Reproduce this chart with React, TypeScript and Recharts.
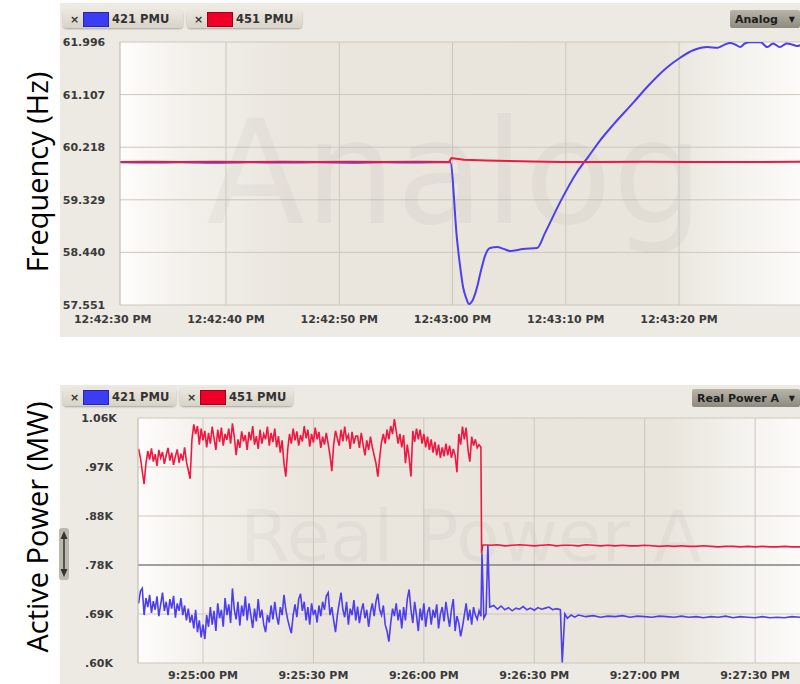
import React from "react";
import { LineChart, Line, XAxis, YAxis, CartesianGrid, ReferenceLine } from "recharts";

// top plot: seconds after 12:42:00 PM
const freqTicks = [30, 40, 50, 60, 70, 80];
const freqTickLabels = ["12:42:30 PM", "12:42:40 PM", "12:42:50 PM", "12:43:00 PM", "12:43:10 PM", "12:43:20 PM"];
const freqYTicks = [57.551, 58.44, 59.329, 60.218, 61.107, 61.996];
const freqDomain = [30.64, 90.68];

const freq421Times = [30.6, 33, 36, 39, 42, 45, 48, 51, 54, 57, 59.8, 60.4, 60.68, 60.93, 61.2, 61.46, 61.8, 62.17, 62.46, 62.9, 63.32, 63.94, 64.5, 65.08, 66.23, 67.47, 68.17, 69.5, 71.0, 72.0, 73.02, 74.2, 75.96, 77.2, 78.96, 80.1, 81.3, 82.5, 83.4, 83.9, 84.5, 85.0, 85.4, 85.8, 86.3, 87.2, 87.8, 88.3, 88.9, 89.5, 90.05, 90.4, 90.7];
const freq421Hz = [59.962, 59.958, 59.964, 59.955, 59.963, 59.958, 59.962, 59.957, 59.963, 59.96, 59.965, 58.65, 58.19, 57.855, 57.67, 57.568, 57.64, 57.855, 58.09, 58.40, 58.514, 58.531, 58.5, 58.464, 58.497, 58.514, 58.77, 59.29, 59.8, 60.06, 60.33, 60.6, 60.97, 61.24, 61.57, 61.73, 61.86, 61.91, 61.9, 61.94, 61.98, 61.95, 61.91, 61.97, 61.99, 61.99, 61.91, 61.97, 61.91, 61.97, 61.95, 61.93, 61.94];

const freq451Times = [30.6, 33, 36, 39, 42, 45, 48, 51, 54, 57, 59.7, 59.9, 61, 63, 65, 67, 69.6, 73, 77, 81, 85, 90.7];
const freq451Hz = [59.968, 59.972, 59.966, 59.97, 59.968, 59.972, 59.966, 59.97, 59.968, 59.97, 59.968, 60.036, 60.004, 59.995, 59.985, 59.978, 59.968, 59.968, 59.97, 59.968, 59.968, 59.97];

// bottom plot: seconds after 9:24:00 PM
const powerTicks = [60, 90, 120, 150, 180, 210];
const powerTickLabels = ["9:25:00 PM", "9:25:30 PM", "9:26:00 PM", "9:26:30 PM", "9:27:00 PM", "9:27:30 PM"];
const powerYTicks = [600, 692, 784, 876, 968, 1060];
const powerDomain = [42.34, 222.2];

// PMU samples every 0.5 s from 42.5 s until the trip
const powerSampleStart = 42.5;
const powerSampleStep = 0.5;

const power421Noisy = [
  712, 735, 740, 690, 722, 705, 728, 694, 716, 700, 725, 688, 710, 732, 698, 715, 690, 720, 702, 726, 685, 712, 698, 722, 690, 708, 680, 702, 676,
  690, 665, 700, 658, 680, 648, 672, 645, 690, 668,
  705, 672, 698, 660, 712, 684, 700, 668, 722, 690,
  710, 675, 740, 700, 682, 715, 670, 708, 688, 725,
  680, 712, 690, 666, 702, 678, 720, 685, 700, 672,
  658, 690, 676, 708, 682, 715, 688, 672, 705, 690,
  728, 700, 682, 668, 656, 690, 710, 686, 720, 730,
  698, 715, 680, 705, 672, 712, 690, 700, 676, 708,
  688, 715, 700, 726, 732, 690, 705, 680, 658, 690,
  712, 732, 700, 686, 715, 672, 702, 690, 718, 680,
  706, 675, 698, 712, 684, 700, 668, 695, 712, 688,
  715, 730, 700, 690, 708, 672, 660, 640, 675, 702,
  688, 712, 680, 700, 665, 705, 680, 720, 738, 700,
  675, 715, 690, 660, 702, 680, 712, 668, 695, 705,
  672, 700, 685, 710, 665, 692, 705, 678, 715, 690,
  668, 700, 720, 660, 688, 675, 650, 668, 690, 712,
  680, 700, 672, 705, 690, 682, 698, 688,
];

const power451Noisy = [
  1002, 985, 960, 936, 975, 998, 982, 1003, 978, 992, 970, 1000, 985, 996, 974, 990, 1004, 980, 995, 972, 988, 1001, 976, 993, 980, 1005, 978, 962, 946,
  1020, 1048, 1030, 1045, 1010, 1040, 1018, 1036, 1005, 1032,
  1012, 1044, 1022, 1000, 1038, 1015, 1042, 1008, 1030, 1019,
  1040, 1012, 1050, 1025, 990, 1020, 1004, 1035, 1016, 1028,
  1000, 1034, 1018, 1045, 1010, 1026, 1002, 1038, 1012, 1030,
  1020, 1044, 1008, 1032, 1015, 1040, 1005, 1026, 995, 1018,
  975, 950, 1000, 1030, 1012, 1040, 1018, 1035, 1008, 1028,
  1016, 1045, 1022, 1038, 1006, 1030, 1014, 1042, 1020, 1034,
  1004, 1025, 1010, 1032, 1012, 990, 960, 1010, 1036, 1022,
  1008, 1038, 1016, 1044, 1020, 1028, 1002, 1034, 1012, 1026,
  1026, 1004, 1032, 1010, 990, 1018, 1000, 1025, 1005, 990,
  975, 950, 985, 1015, 1030, 1012, 1038, 1020, 1045, 1030,
  1058, 1035, 1012, 1030, 1005, 1028, 975, 1010, 985, 950,
  1036, 1015, 1040, 1020, 1038, 1012, 1030, 1005, 1025, 1000,
  1020, 995, 1015, 990, 1010, 985, 1005, 988, 1012, 990,
  1008, 985, 1002, 990, 958, 1030, 1010, 1044, 1020, 1042,
  1000, 978, 1025, 1008, 1020, 1004, 1010, 1005,
];

const power421AfterTimes = [135.8, 136.3, 136.9, 137.4, 137.9, 139, 140, 141, 142, 143, 144, 145, 146, 147, 148, 149, 150, 151, 152, 153, 154, 155, 156, 157.1, 157.6, 158.3, 159, 160, 161, 162, 164, 166, 168, 170, 172, 174, 176, 178, 180, 182, 184, 186, 188, 190, 192, 194, 196, 198, 200, 202, 204, 206, 208, 210, 212, 214, 216, 218, 220, 222.2];
const power421AfterMW = [806, 684, 692, 822, 705, 708, 701, 707, 700, 704, 698, 703, 701, 706, 700, 703, 699, 704, 701, 703, 705, 700, 702, 700, 601, 692, 684, 690, 686, 690, 687, 689, 686, 688, 687, 689, 686, 688, 687, 686, 688, 687, 686, 688, 686, 687, 685, 687, 686, 688, 685, 687, 686, 685, 687, 685, 686, 685, 687, 686];

const power451AfterTimes = [135.7, 136.0, 138, 140, 142, 144, 146, 148, 150, 152, 154, 156, 158, 160, 162, 164, 166, 168, 170, 172, 174, 176, 178, 180, 182, 184, 186, 188, 190, 192, 194, 196, 198, 200, 202, 204, 206, 208, 210, 212, 214, 216, 218, 220, 222.2];
const power451AfterMW = [806, 822, 821, 822, 820, 821, 822, 821, 820, 821, 822, 820, 821, 821, 820, 822, 821, 820, 821, 820, 821, 820, 820, 821, 820, 819, 820, 819, 820, 819, 819, 820, 819, 818, 819, 819, 818, 819, 818, 819, 818, 818, 819, 818, 818];

const BLUE = "#4d3ef0";
const RED = "#f01840";
const GRID = "#ccc7bc";
const TICK_FONT = { fill: "#3a3a3a", fontSize: 11, fontWeight: "bold", fontFamily: "DejaVu Sans" };

const toRows = (times: number[], vals: number[]) => times.map((t, i) => ({ t, v: vals[i] }));
const sampled = (vals: number[]) => vals.map((v, i) => ({ t: powerSampleStart + i * powerSampleStep, v }));

const freq421 = toRows(freq421Times, freq421Hz);
const freq451 = toRows(freq451Times, freq451Hz);
const power421 = [...sampled(power421Noisy), ...toRows(power421AfterTimes, power421AfterMW)];
const power451 = [...sampled(power451Noisy), ...toRows(power451AfterTimes, power451AfterMW)];

const fmtPower = (v: number) => {
  const s = (v / 1000).toFixed(2);
  return (s.startsWith("0") ? s.slice(1) : s) + "K";
};

const centerTick = (offset: number, fmt: (v: number) => string) => (p: any) => (
  <text x={p.x - offset} y={p.y} dy={4} textAnchor="middle" {...TICK_FONT}>
    {fmt(p.payload.value)}
  </text>
);

const Chip = ({ left, top, width, color, label }: any) => (
  <div
    style={{
      position: "absolute", left, top, width, height: 18, borderRadius: 4,
      background: "linear-gradient(#ece8e0, #d8d3c8)", boxShadow: "0 1px 2px rgba(0,0,0,0.3)",
      display: "flex", alignItems: "center", font: "bold 11.5px 'DejaVu Sans'", color: "#333",
    }}
  >
    <span style={{ marginLeft: 7, width: 11, fontSize: 11 }}>×</span>
    <span style={{ marginLeft: 2, width: 24, height: 13, background: color, border: "1px solid rgba(0,0,0,0.35)" }} />
    <span style={{ marginLeft: 3 }}>{label}</span>
  </div>
);

const Dropdown = ({ left, top, width, label }: any) => (
  <div
    style={{
      position: "absolute", left, top, width, height: 18, borderRadius: 2,
      background: "linear-gradient(#b9b4a9, #8f8a7f)", display: "flex", alignItems: "center",
      font: "bold 11px 'DejaVu Sans'", color: "#1e1e1e",
    }}
  >
    <span style={{ marginLeft: 5 }}>{label}</span>
    <span style={{ marginLeft: "auto", marginRight: 5, fontSize: 8 }}>▼</span>
  </div>
);

const SideLabel = ({ cx, cy, text }: any) => (
  <div
    style={{
      position: "absolute", left: cx, top: cy, transform: "translate(-50%, -50%) rotate(-90deg)",
      whiteSpace: "nowrap", font: "29px 'Open Sans'", color: "#000",
    }}
  >
    {text}
  </div>
);

const PlotGradient = ({ id }: any) => (
  <linearGradient id={id} x1="0" y1="0" x2="1" y2="0">
    <stop offset="0" stopColor="#fefdfb" />
    <stop offset="0.1" stopColor="#f3f0eb" />
    <stop offset="0.25" stopColor="#eae6de" />
    <stop offset="0.8" stopColor="#e9e5dc" />
    <stop offset="0.9" stopColor="#f3f1ec" />
    <stop offset="1" stopColor="#fcfbf9" />
  </linearGradient>
);

const FreqChart = () => (
  <div style={{ position: "absolute", left: 60, top: 3, width: 740, height: 334, background: "#edeae3" }}>
    <LineChart width={740} height={334} margin={{ top: 39, right: 0, bottom: 0, left: 0 }}>
      <defs>
        <PlotGradient id="freqBg" />
      </defs>
      <CartesianGrid vertical={false} stroke={GRID} fill="url(#freqBg)" fillOpacity={1} />
      <text x={395} y={220} textAnchor="middle" fontSize={144} fontFamily="DejaVu Sans" fill="#000" fillOpacity={0.03}>
        Analog
      </text>
      {freqTicks.filter((t) => t > freqDomain[0]).map((t) => (
        <ReferenceLine key={t} x={t} stroke={GRID} />
      ))}
      <XAxis
        type="number" dataKey="t" domain={freqDomain} allowDataOverflow ticks={freqTicks} interval={0}
        tickFormatter={(v: number) => freqTickLabels[freqTicks.indexOf(v)]}
        axisLine={false} tickLine={false} tickSize={0} tickMargin={10} height={32} tick={TICK_FONT}
      />
      <YAxis
        type="number" domain={[57.551, 61.996]} allowDataOverflow ticks={freqYTicks} interval={0} width={60}
        axisLine={{ stroke: "#b8b3a8" }} tickLine={false} tickSize={0} tickMargin={0}
        tick={centerTick(36, (v) => v.toFixed(3))}
      />
      <Line data={freq421} dataKey="v" type="monotone" stroke={BLUE} strokeWidth={2} dot={false} isAnimationActive={false} />
      <Line data={freq451} dataKey="v" type="linear" stroke={RED} strokeWidth={2} dot={false} isAnimationActive={false} />
    </LineChart>
    <Chip left={3} top={7} width={120} color="#3c3cf5" label="421 PMU" />
    <Chip left={127} top={7} width={115} color="#f00028" label="451 PMU" />
    <Dropdown left={670} top={7} width={70} label="Analog" />
  </div>
);

const PowerChart = () => (
  <div style={{ position: "absolute", left: 60, top: 385, width: 740, height: 299, background: "#edeae3" }}>
    <LineChart width={740} height={299} margin={{ top: 33, right: 0, bottom: 0, left: 0 }}>
      <defs>
        <PlotGradient id="powerBg" />
      </defs>
      <CartesianGrid vertical={false} stroke={GRID} fill="url(#powerBg)" fillOpacity={1} />
      <text x={411} y={176} textAnchor="middle" fontSize={71} fontFamily="DejaVu Sans" fill="#000" fillOpacity={0.03}>
        Real Power A
      </text>
      {powerTicks.map((t) => (
        <ReferenceLine key={t} x={t} stroke={GRID} />
      ))}
      <ReferenceLine y={784} stroke="#5e5e5e" />
      <XAxis
        type="number" dataKey="t" domain={powerDomain} allowDataOverflow ticks={powerTicks} interval={0}
        tickFormatter={(v: number) => powerTickLabels[powerTicks.indexOf(v)]}
        axisLine={false} tickLine={false} tickSize={0} tickMargin={8} height={21} tick={TICK_FONT}
      />
      <YAxis
        type="number" domain={[600, 1060]} allowDataOverflow ticks={powerYTicks} interval={0} width={78}
        axisLine={{ stroke: "#b8b3a8" }} tickLine={false} tickSize={0} tickMargin={0}
        tick={centerTick(39, fmtPower)}
      />
      <Line data={power421} dataKey="v" type="linear" stroke={BLUE} strokeWidth={1.6} dot={false} isAnimationActive={false} />
      <Line data={power451} dataKey="v" type="linear" stroke={RED} strokeWidth={1.6} dot={false} isAnimationActive={false} />
    </LineChart>
    <Chip left={3} top={3} width={113} color="#3c3cf5" label="421 PMU" />
    <Chip left={120} top={3} width={113} color="#f00028" label="451 PMU" />
    <Dropdown left={632} top={4} width={108} label="Real Power A" />
    <div
      style={{
        position: "absolute", left: -1, top: 143, width: 10, height: 52, borderRadius: 3,
        background: "#bdb8ad", display: "flex", justifyContent: "center",
      }}
    >
      <svg width={10} height={52}>
        <line x1={5} y1={8} x2={5} y2={44} stroke="#333" strokeWidth={1.5} />
        <polygon points="5,3 1.5,11 8.5,11" fill="#333" />
        <polygon points="5,49 1.5,41 8.5,41" fill="#333" />
      </svg>
    </div>
  </div>
);

export default function App() {
  return (
    <div style={{ position: "absolute", left: 0, top: 0, width: 800, height: 684, background: "#fff", overflow: "hidden" }}>
      <SideLabel cx={36} cy={172} text="Frequency (Hz)" />
      <SideLabel cx={36} cy={527} text="Active Power (MW)" />
      <FreqChart />
      <PowerChart />
    </div>
  );
}
